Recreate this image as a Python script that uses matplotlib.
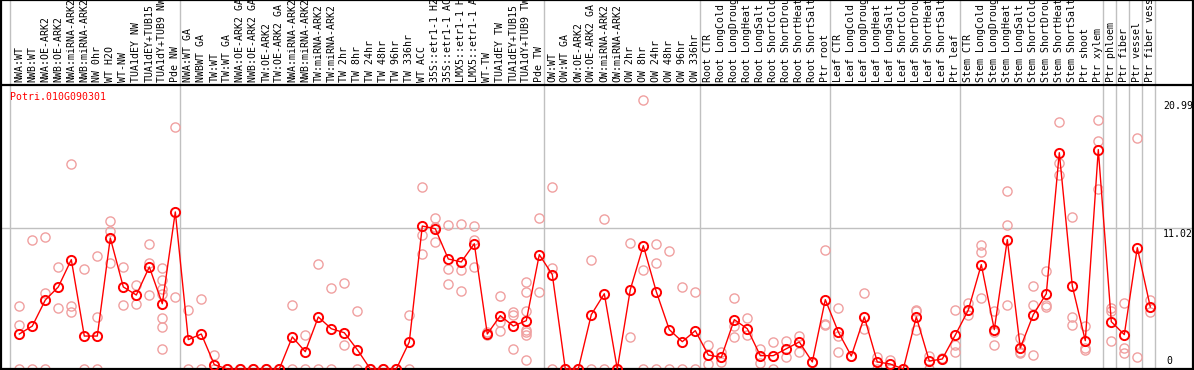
import numpy as np
import matplotlib.pyplot as plt
from matplotlib.transforms import blended_transform_factory

# sample names, as they show in the header (cut to 14 chars)
labels_nw = ["NWA:WT", "NWB:WT", "NWA:OE-ARK2", "NWB:OE-ARK2", "NWA:miRNA-ARK2",
             "NWB:miRNA-ARK2", "NW 0hr", "WT H2O", "WT-NW", "TUA1dEY NW",
             "TUA1dEY+TUB15", "TUA1dY+TUB9 NW", "Pde NW"]
labels_tw = ["NWA:WT GA", "NWBWT GA", "TW:WT", "TW:WT GA", "NWA:OE-ARK2 GA",
             "NWB:OE-ARK2 GA", "TW:OE-ARK2", "TW:OE-ARK2 GA", "NWA:miRNA-ARK2",
             "NWB:miRNA-ARK2", "TW:miRNA-ARK2", "TW:miRNA-ARK2", "TW 2hr", "TW 8hr",
             "TW 24hr", "TW 48hr", "TW 96hr", "TW 336hr", "WT ACC", "35S::etr1-1 H2",
             "35S::etr1-1 AC", "LMX5::etr1-1 H", "LMX5::etr1-1 A", "WT-TW",
             "TUA1dEY TW", "TUA1dEY+TUB15", "TUA1dY+TUB9 TW", "Pde TW"]
labels_ow = ["OW:WT", "OW:WT GA", "OW:OE-ARK2", "OW:OE-ARK2 GA", "OW:miRNA-ARK2",
             "OW:miRNA-ARK2", "OW 2hr", "OW 8hr", "OW 24hr", "OW 48hr", "OW 96hr",
             "OW 336hr"]
stress = ["CTR", "LongCold", "LongDroug", "LongHeat", "LongSalt", "ShortCold",
          "ShortDrou", "ShortHeat", "ShortSalt"]
labels_root = ["Root " + s for s in stress] + ["Ptr root"]
labels_leaf = ["Leaf " + s for s in stress] + ["Ptr leaf"]
labels_stem = ["Stem " + s for s in stress] + ["Ptr shoot", "Ptr xylem"]
labels_ptr = [["Ptr phloem"], ["Ptr fiber"], ["Ptr vessel"], ["Ptr fiber vess"]]

groups = [labels_nw, labels_tw, labels_ow, labels_root, labels_leaf, labels_stem] + labels_ptr
labels = [l for g in groups for l in g]

means = [2.73, 3.35, 5.38, 6.40, 8.53, 2.57, 2.57, 10.22, 6.40, 5.77, 7.96, 5.09, 12.25,
         2.29, 2.73, 0.34, 0, 0, 0, 0, 0, 2.50, 1.35, 4.06, 3.14, 2.83, 1.51, 0, 0, 0,
         2.11, 11.15, 10.94, 8.58, 8.35, 9.77, 2.73, 4.16, 3.35, 3.77, 8.92,
         7.36, 0, 0, 4.24, 5.87, 0, 6.19, 9.62, 6.03, 3.07, 2.13, 2.99,
         1.09, 0.91, 3.85, 3.14, 1.04, 1.04, 1.58, 2.11, 0.55, 5.41,
         2.89, 1.01, 4.06, 0.55, 0.39, 0, 4.06, 0.62, 0.78, 2.65,
         4.60, 8.14, 3.07, 10.09, 1.64, 4.24, 5.87, 16.87, 6.47, 2.21, 17.11,
         3.69, 2.68, 9.46, 4.84]

reps = [[4.91, 3.43, 0], [10.06, 0], [10.30, 5.95, 0], [7.98, 4.76], [16.01, 4.94, 4.45],
        [7.80, 0], [8.84, 4.06, 0], [11.57, 10.79, 8.29], [7.98, 5.02], [6.58, 5.09],
        [9.77, 8.29, 5.80], [7.90, 6.97, 6.27, 5.87, 3.98, 3.28, 1.56], [18.90, 5.62],
        [4.60, 0], [5.46, 0], [1.09, 0], [0, 0], [0, 0], [0, 0], [0, 0], [0, 0],
        [5.02, 0], [2.65, 0], [8.21, 0], [6.32, 0], [6.71, 1.87], [4.55, 0],
        [0, 0], [0, 0], [0, 0], [4.21, 0], [14.20, 10.45, 8.97], [11.80, 11.10, 9.91],
        [11.26, 7.80, 6.65], [11.33, 7.72, 6.11], [11.18, 10.09, 7.98], [2.89, 2.63],
        [5.72, 3.67, 2.99], [4.45, 4.21, 1.58], [6.79, 6.01, 4.55, 3.07, 2.89, 2.68, 0.73],
        [11.80, 6.03], [14.20, 7.90, 0], [0, 0], [0, 0], [8.53, 0], [11.72, 0], [0, 0],
        [9.85, 2.52], [20.99, 7.72, 0], [9.77, 8.29, 0], [9.23, 0], [6.42, 0], [6.03, 0],
        [1.87, 0.39], [1.33, 0.55], [5.56, 3.38, 2.52], [4.00, 2.65], [1.58, 0.47],
        [2.13, 0], [2.21, 0.96], [2.60, 1.33], [0.55, 0.55], [9.31, 3.51, 3.45],
        [4.76, 2.55, 1.33], [1.01, 1.05], [5.95, 3.12], [0.91, 0], [0.70, 0], [0, 0],
        [4.60, 4.55, 3.04], [1.01, 0], [0.86, 0.78], [4.60, 1.87, 1.33],
        [5.17, 4.24], [9.67, 9.13, 5.54], [4.52, 2.89, 1.87], [13.88, 11.26, 5.02],
        [2.42, 1.25, 1.30], [6.50, 5.02, 1.09], [7.67, 5.02, 4.86], [19.29, 16.09, 15.16],
        [11.88, 4.08, 3.43], [3.35, 1.64, 1.48], [19.45, 17.81, 14.06],
        [4.78, 4.55, 2.21], [5.17, 1.64, 1.25], [18.04, 0.96], [5.41, 4.47]]

gene = "Potri.010G090301"
ymax_label, ymid_label = 20.99, 11.02

W, H = 1194, 370
step = 13.0          # px between samples
x0 = 19.3            # px of first sample
top = 85             # px where header ends
bot = 369            # px of zero line
ppu = (369.3 - 228) / ymid_label

mono = "DejaVu Sans Mono"
grey = "#c0c0c0"
pink = "#f0a0a0"

fig = plt.figure(figsize=(W / 100, H / 100), dpi=100)
ax = fig.add_axes([1 / W, (H - bot) / H, 1192 / W, (bot - top) / H])
hx = fig.add_axes([1 / W, (H - top) / H, 1192 / W, top / H])

xlo = -(x0 - 1) / step
xhi = xlo + 1192 / step
n = len(labels)
x = np.arange(n)

for a in (ax, hx):
    a.set_xlim(xlo, xhi)
    a.set_xticks([])
    a.set_yticks([])
    for s in a.spines.values():
        s.set_color("black")
        s.set_linewidth(1.6)
ax.set_ylim(0, (bot - top) / ppu)
ax.spines["top"].set_visible(False)
hx.set_ylim(0, 1)

# group separators
sizes = [len(g) for g in groups]
bounds = [-0.72] + list(np.cumsum(sizes) - 1 + 0.36)
for b in bounds:
    ax.axvline(b, color=grey, lw=1, zorder=0)
    hx.axvline(b, color=grey, lw=1, zorder=0)
ax.axhline(ymid_label, color=grey, lw=1, zorder=0)

# header labels
ht = blended_transform_factory(hx.transData, hx.transAxes)
for i, lab in enumerate(labels):
    hx.text(i, 0.03, lab, rotation=90, ha="center", va="bottom", transform=ht,
            family=mono, fontsize=7.1, color="black")

# replicates
for i, r in enumerate(reps):
    ax.plot([i] * len(r), r, ls="none", marker="o", ms=6.6, mfc="none", mec=pink,
            mew=1.0, clip_on=False, zorder=2)

# means
ax.plot(x, means, color="red", lw=1, marker="o", ms=6.6, mfc="none", mec="red",
        mew=1.4, clip_on=False, zorder=3)

ax.text((10 - 1) / 1192, (bot - 92) / (bot - top), gene, transform=ax.transAxes,
        ha="left", va="top", color="red", family=mono, fontsize=7.1)

rt = blended_transform_factory(ax.transAxes, ax.transData)
xr = (1163 - 1) / 1192
ax.text(xr, ymax_label - 0.1, f"{ymax_label:.2f}", transform=rt, ha="left", va="top",
        family=mono, fontsize=7.1)
ax.text(xr, ymid_label - 0.1, f"{ymid_label:.2f}", transform=rt, ha="left", va="top",
        family=mono, fontsize=7.1)
ax.text((1166 - 1) / 1192, 0.25, "0", transform=rt, ha="left", va="bottom",
        family=mono, fontsize=7.1)

fig.savefig("out.png", dpi=100)
